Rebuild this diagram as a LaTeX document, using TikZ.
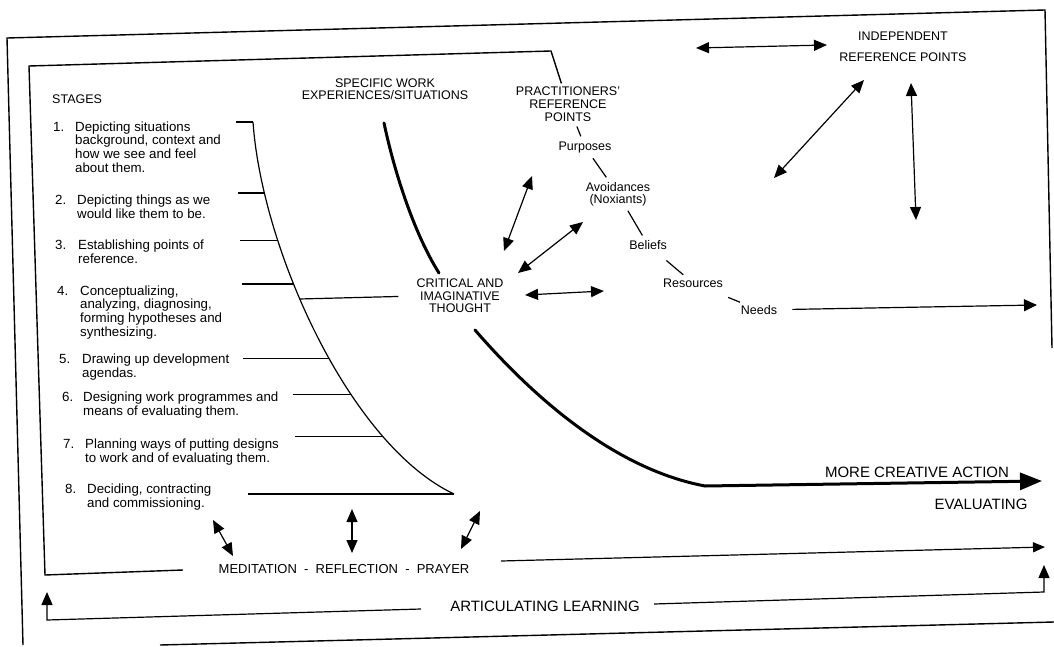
\documentclass[tikz,border=0pt]{standalone}
\usepackage{fontspec}
\setmainfont{Liberation Sans}
\usetikzlibrary{arrows.meta}
\begin{document}
\begin{tikzpicture}[x=1pt,y=-1pt,
  rule/.style={line width=1.2pt},
  border/.style={line width=1.4pt},
  bold/.style={line width=3pt,line cap=round},
  twoway/.style={rule,{Triangle[length=13pt,width=11pt]}-{Triangle[length=13pt,width=11pt]}},
  oneway/.style={rule,-{Triangle[length=12pt,width=10pt]}},
  stagetext/.style={inner sep=0pt,anchor=west,font=\fontsize{13.3}{13.5}\selectfont},
  caption/.style={inner sep=0pt,align=center,font=\fontsize{12.5}{12.5}\selectfont},
  item/.style={inner sep=3pt,align=center,font=\fontsize{12.5}{12}\selectfont},
  large/.style={inner sep=0pt,font=\fontsize{15}{15}\selectfont},
]
\fill[white] (0,0) rectangle (1054,647);
\useasboundingbox (0,0) rectangle (1054,647);

% ---------- labels ----------
\node[caption,anchor=west] (stages) at (52,99) {STAGES};
\node[stagetext] (st1) at (53,149) {\begin{tabular}{@{}p{22pt}@{}l@{}}1.&Depicting situations\\&background, context and\\&how we see and feel\\&about them.\end{tabular}};
\node[stagetext] (st2) at (55,209) {\begin{tabular}{@{}p{22pt}@{}l@{}}2.&Depicting things as we\\&would like them to be.\end{tabular}};
\node[stagetext] (st3) at (55,254) {\begin{tabular}{@{}p{23pt}@{}l@{}}3.&Establishing points of\\&reference.\end{tabular}};
\node[stagetext] (st4) at (57,313) {\begin{tabular}{@{}p{23pt}@{}l@{}}4.&Conceptualizing,\\&analyzing, diagnosing,\\&forming hypotheses and\\&synthesizing.\end{tabular}};
\node[stagetext] (st5) at (59,368) {\begin{tabular}{@{}p{23pt}@{}l@{}}5.&Drawing up development\\&agendas.\end{tabular}};
\node[stagetext] (st6) at (62,406) {\begin{tabular}{@{}p{21pt}@{}l@{}}6.&Designing work programmes and\\&means of evaluating them.\end{tabular}};
\node[stagetext] (st7) at (63,453) {\begin{tabular}{@{}p{22pt}@{}l@{}}7.&Planning ways of putting designs\\&to work and of evaluating them.\end{tabular}};
\node[stagetext] (st8) at (65,498) {\begin{tabular}{@{}p{22pt}@{}l@{}}8.&Deciding, contracting\\&and commissioning.\end{tabular}};

\node[caption,font=\fontsize{12.5}{12}\selectfont] (spec) at (385,89) {SPECIFIC WORK\\EXPERIENCES/SITUATIONS};
\node[caption] (crit) at (460,296) {CRITICAL AND\\IMAGINATIVE\\THOUGHT};
\node[item,font=\fontsize{12.5}{13}\selectfont] (prac) at (568,104) {PRACTITIONERS'\\REFERENCE\\POINTS};
\node[item] (purp) at (585,147) {Purposes};
\node[item] (avoid) at (618,194) {Avoidances\\(Noxiants)};
\node[item] (bel) at (648,245) {Beliefs};
\node[item] (res) at (693,283) {Resources};
\node[item] (needs) at (759,310) {Needs};
\node[caption] (indep) at (903,47) {INDEPENDENT\\[8.5pt]REFERENCE POINTS};
\node[large] (mca) at (917,472) {MORE CREATIVE ACTION};
\node[large] (eval) at (981,504) {EVALUATING};
\node[inner sep=0pt,font=\fontsize{13}{13}\selectfont] (med) at (344,569) {MEDITATION~~-~~REFLECTION~~-~~PRAYER};
\node[large] (art) at (545,606) {ARTICULATING LEARNING};

% ---------- outer frame ----------
\draw[border] (23,645) -- (7,38) -- (1045,10) -- (1052,348);
\draw[border] (160,645) -- (1054,622);

% ---------- inner frame, joined to the practitioners' points ----------
\coordinate (innerend) at (183,570);
\draw[border] (innerend) -- (45,575) -- (29,66) -- (551,51) -- (prac);

% ---------- stage curve, with a point on it for every stage ----------
\coordinate (c1) at (253,122);
\coordinate (c8) at (454,494);
\draw[rule] (c1) .. controls (262,250) and (350,445) .. (c8)
  coordinate[pos=0.172] (c2)
  coordinate[pos=0.279] (c3)
  coordinate[pos=0.377] (c4)
  coordinate[pos=0.411] (cx)
  coordinate[pos=0.549] (c5)
  coordinate[pos=0.640] (c6)
  coordinate[pos=0.759] (c7);
\coordinate (t1) at (236,121);
\coordinate (t2) at (238,193);
\coordinate (t3) at (240,240);
\coordinate (t4) at (242,285);
\coordinate (t5) at (243,360);
\coordinate (t6) at (293,396);
\coordinate (t7) at (295,437);
\coordinate (t8) at (248,500);
\foreach \i in {1,...,8} \draw[rule] (t\i |- c\i) -- (c\i);
\draw[rule,shorten >=18pt] (cx) -- (crit.west);

% ---------- thick experience curve into creative action ----------
\draw[bold] (384,123) .. controls (395,175) and (415,235) .. (439,273);
\coordinate (mcatip) at (1042,481);
\draw[bold,-{Triangle[length=22pt,width=17pt]}] (475,330) .. controls (540,405) and (620,470) .. (705,486) -- (mcatip);

% ---------- practitioners' chain ----------
\draw[rule,shorten <=2pt,shorten >=2pt] (prac) -- (purp);
\draw[rule,shorten <=3pt,shorten >=2pt] (purp) -- (avoid);
\draw[rule,shorten <=2pt,shorten >=2pt] (avoid) -- (bel);
\draw[rule,shorten <=12pt,shorten >=1pt] (bel) -- (res);
\draw[rule,shorten <=18pt] (res) -- (needs);
\coordinate (needstip) at (1037,305);
\draw[rule,-{Triangle[length=13pt,width=12pt]},shorten <=12pt] (needs) -- (needstip);

% ---------- two-way arrows ----------
\coordinate (a1) at (696,48);  \coordinate (a2) at (827,45);
\coordinate (b1) at (864,80);  \coordinate (b2) at (774,178);
\coordinate (v1) at (911,83);  \coordinate (v2) at (916,220);
\coordinate (d1) at (532,176); \coordinate (d2) at (504,251);
\coordinate (e1) at (583,222); \coordinate (e2) at (518,273);
\coordinate (f1) at (525,295); \coordinate (f2) at (604,291);
\coordinate (g1) at (213,520); \coordinate (g2) at (233,556);
\coordinate (h1) at (352,509); \coordinate (h2) at (352,553);
\coordinate (i1) at (480,511); \coordinate (i2) at (461,549);
\foreach \p in {a,b,v,d,e,f,g,h,i} \draw[twoway] (\p1) -- (\p2);

% ---------- evaluating and articulating lines ----------
\coordinate (medline) at (501,561);
\coordinate (medtip) at (1045,547);
\draw[oneway] (medline) -- (medtip);
\coordinate (artltip) at (47,592);
\coordinate (artlcorner) at (47,620);
\coordinate (artlend) at (421,609);
\draw[rule,{Triangle[length=13pt,width=11pt]}-] (artltip) -- (artlcorner) -- (artlend);
\coordinate (artrstart) at (654,604);
\coordinate (artrcorner) at (1044,592);
\coordinate (artrtip) at (1044,565);
\draw[rule,-{Triangle[length=13pt,width=11pt]}] (artrstart) -- (artrcorner) -- (artrtip);
\end{tikzpicture}
\end{document}
